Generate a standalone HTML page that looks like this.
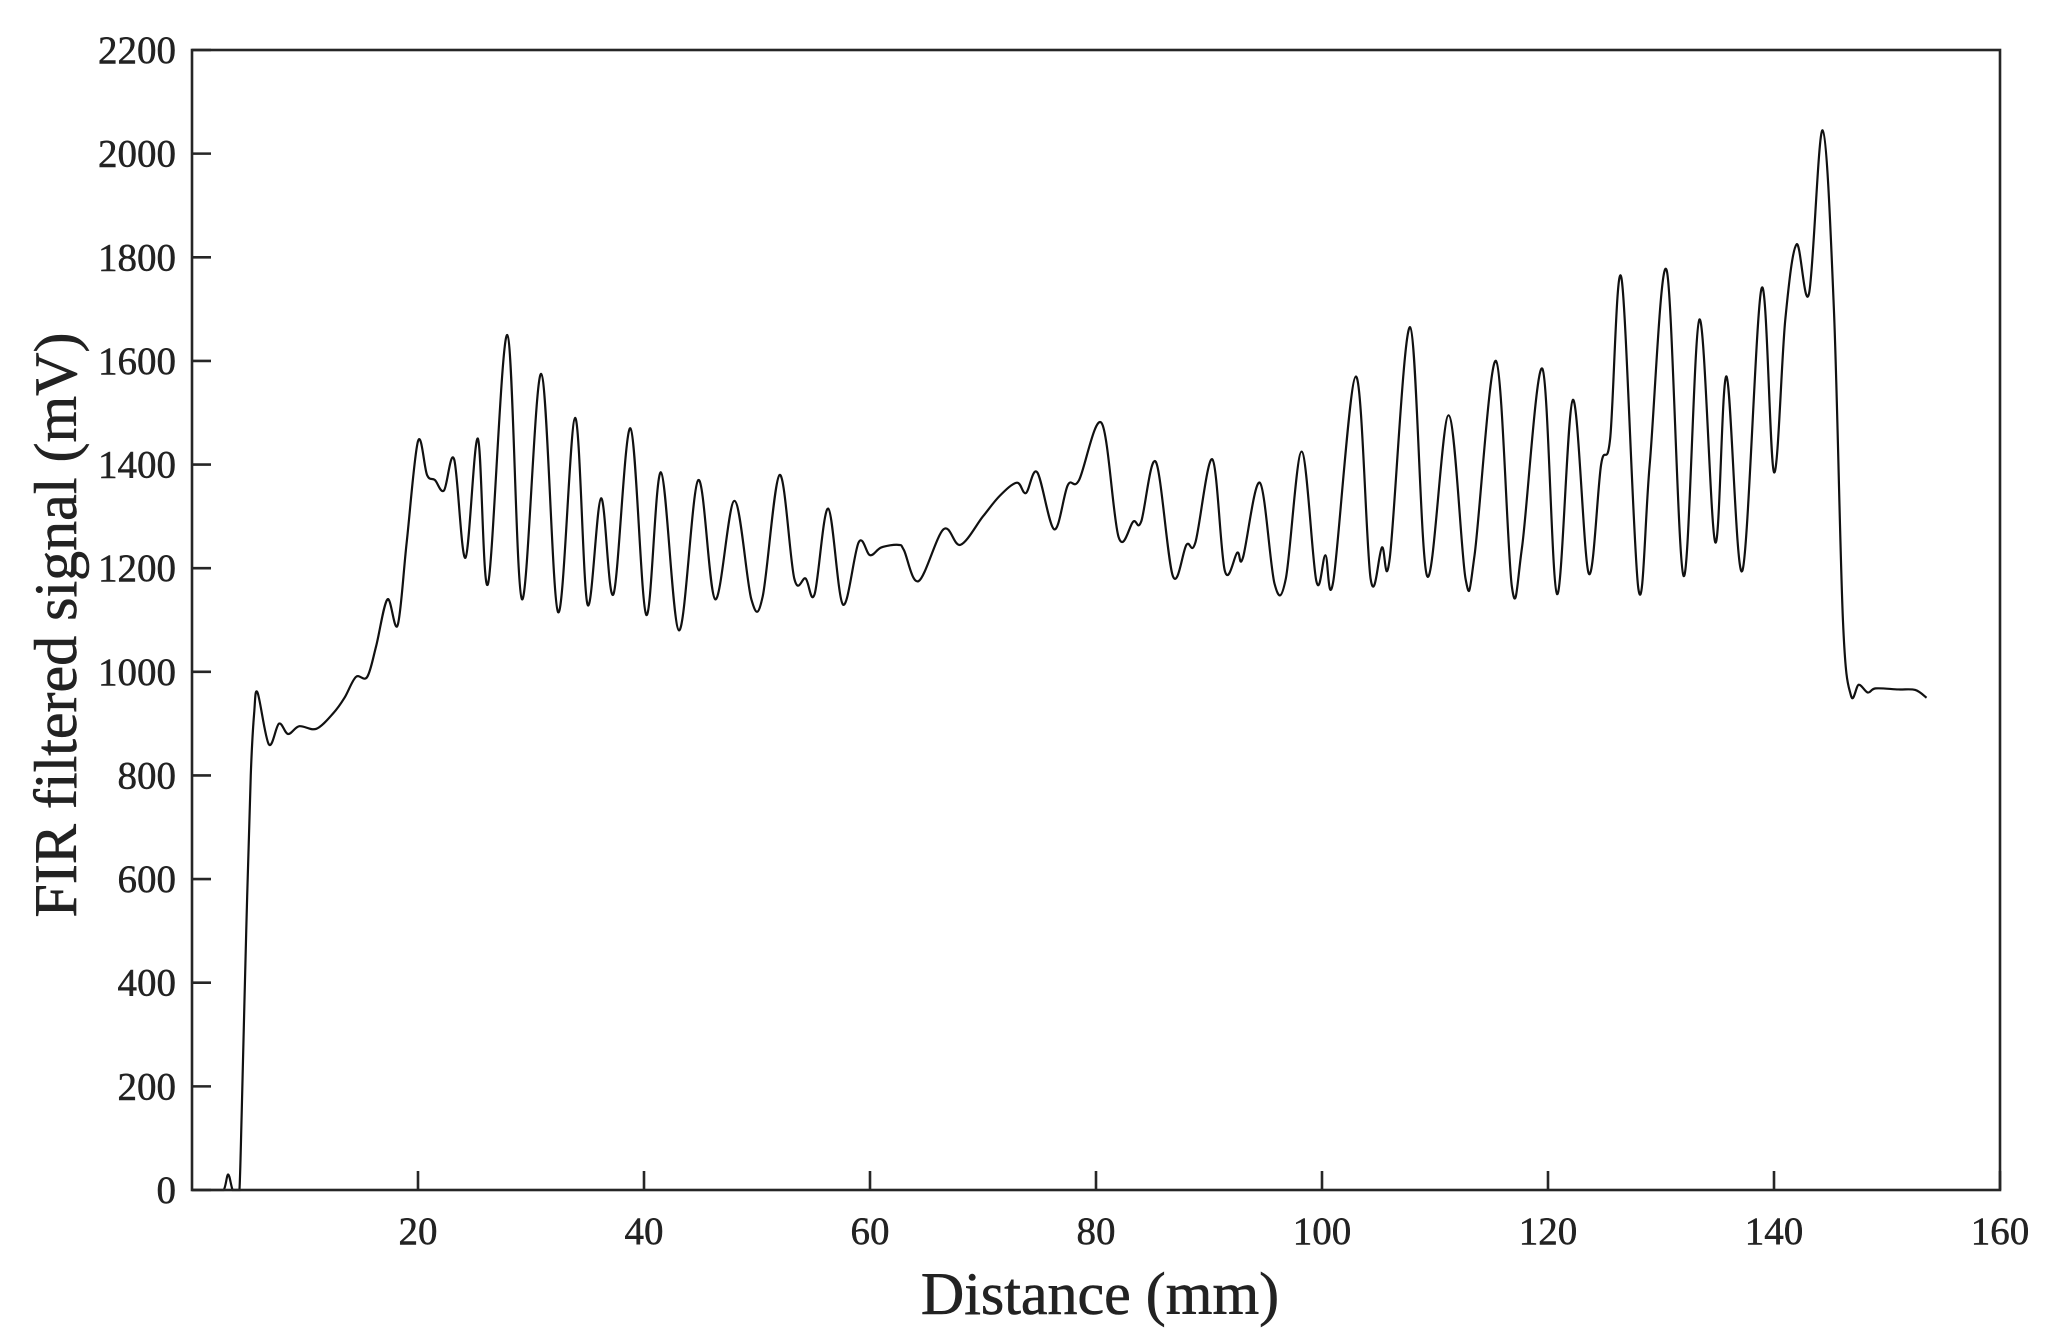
<!DOCTYPE html>
<html><head><meta charset="utf-8"><style>
html,body{margin:0;padding:0;background:#fff;}
svg{display:block;font-family:"Liberation Serif",serif;}
</style></head><body>
<svg id="chart" width="2056" height="1341" viewBox="0 0 2056 1341">
<g id="ticks"></g>
<path id="line" fill="none" stroke="#111" stroke-width="2.2"/>
<rect x="192" y="50" width="1808" height="1140" fill="none" stroke="#262626" stroke-width="2.6"/>
<text x="1100" y="1314" font-size="60" text-anchor="middle" fill="#222" stroke="#222" stroke-width="0.6">Distance (mm)</text>
<text transform="translate(76,625) rotate(-90)" font-size="60" text-anchor="middle" fill="#222" stroke="#222" stroke-width="0.6">FIR filtered signal (mV)</text>
</svg>
<script>
const xTicks=[20,40,60,80,100,120,140,160];
const yTicks=[0,200,400,600,800,1000,1200,1400,1600,1800,2000,2200];
const dist=[0,1,2,2.8,3.2,3.6,4.0,4.2,4.4,4.8,5.2,5.5,5.8,6.8,7.7,8.5,9.5,11,12.5,13.5,14.5,15.5,16.3,17.3,18.2,19,20,20.8,21.5,22.3,23.2,24.2,25.3,26.2,27.9,29.2,30.9,32.4,33.9,35,36.2,37.3,38.8,40.2,41.5,43.1,44.8,46.3,48,49.5,50.5,52,53.3,54.3,55.1,56.3,57.6,59,60,61,62.5,63,64.3,66.5,68,70,71.5,73,73.8,74.8,76.3,77.5,78.5,80.5,82,83.3,84,85.3,86.8,88,88.8,90.3,91.4,92.5,93,94.5,95.8,96.8,98.2,99.5,100.3,101,103,104.3,105.3,106,107.8,109.3,111.2,112.7,113.5,115.4,116.8,117.7,119.5,120.8,122.2,123.6,124.7,125.5,126.5,128,129,130.5,132,133.4,134.8,135.8,137.2,138.9,140,141,142,143.1,144.3,145.3,146.1,146.8,147.5,148.3,149,151,152.5,153.5];
const signal=[0,0,0,0,30,0,0,0,150,500,800,920,960,860,900,880,895,890,920,950,990,990,1050,1140,1090,1250,1445,1380,1370,1350,1410,1220,1450,1170,1650,1140,1575,1115,1490,1130,1335,1150,1470,1110,1385,1080,1370,1140,1330,1140,1145,1380,1180,1180,1150,1315,1130,1250,1225,1240,1245,1235,1175,1275,1245,1300,1340,1365,1345,1385,1275,1360,1370,1480,1260,1290,1290,1405,1185,1245,1250,1410,1195,1230,1220,1365,1170,1180,1425,1175,1225,1175,1570,1180,1240,1220,1665,1185,1495,1180,1225,1600,1165,1240,1585,1150,1525,1190,1400,1450,1760,1160,1400,1775,1185,1680,1250,1570,1195,1740,1385,1680,1825,1730,2045,1700,1100,955,975,960,968,966,965,950];
const X=v=>192+v/160*1808, Y=v=>1190-v/2200*1140;
const NS='http://www.w3.org/2000/svg';
const g=document.getElementById('ticks');
function mk(tag,a){const e=document.createElementNS(NS,tag);for(const k in a)e.setAttribute(k,a[k]);g.appendChild(e);return e;}
xTicks.forEach(t=>{
 const l=mk('line',{x1:X(t),x2:X(t),y1:1190,y2:1171,stroke:'#262626','stroke-width':2.6});
 
 
 const s=mk('text',{x:X(t),y:1244,'font-size':39,'text-anchor':'middle',fill:'#222',stroke:'#222','stroke-width':0.5});
 s.textContent=t;
 
 
});
yTicks.forEach(t=>{
 const l=mk('line',{x1:192,x2:211,y1:Y(t),y2:Y(t),stroke:'#262626','stroke-width':2.6});
 
 
 const s=mk('text',{x:176,y:Y(t)+13,'font-size':39,'text-anchor':'end',fill:'#222',stroke:'#222','stroke-width':0.5});
 s.textContent=t;
 
 
});
const P=dist.map((d,i)=>[X(d),Y(signal[i])]);
let d='M'+P[0][0]+','+P[0][1];
for(let i=0;i<P.length-1;i++){
 const p0=P[Math.max(0,i-1)],p1=P[i],p2=P[i+1],p3=P[Math.min(P.length-1,i+2)];
 let c1=[p1[0]+(p2[0]-p0[0])/6,p1[1]+(p2[1]-p0[1])/6];
 let c2=[p2[0]-(p3[0]-p1[0])/6,p2[1]-(p3[1]-p1[1])/6];
 c1[1]=Math.min(c1[1],1190);c2[1]=Math.min(c2[1],1190);
 d+=` C${c1[0]},${c1[1]} ${c2[0]},${c2[1]} ${p2[0]},${p2[1]}`;
}
document.getElementById('line').setAttribute('d',d);
</script>
</body></html>
